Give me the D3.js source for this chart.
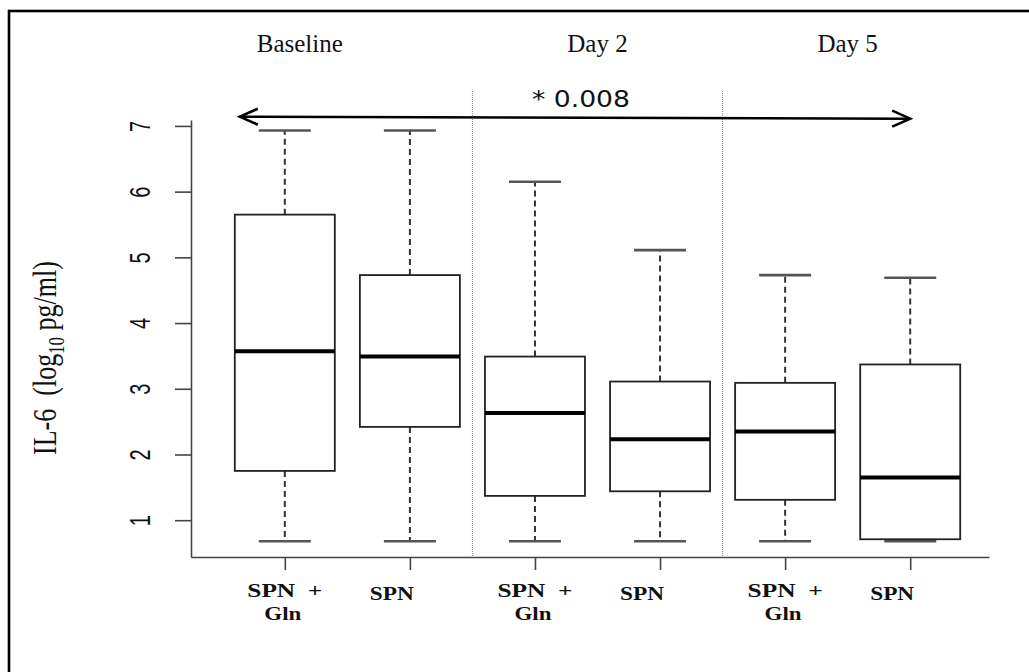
<html>
<head>
<style>
  body { margin: 0; background: #fff; }
  svg text { fill: #111; }
</style>
</head>
<body>
<svg id="chart" width="1029" height="672"></svg>
<script src="https://cdn.jsdelivr.net/npm/d3@7"></script>
<script>
// values (log10 pg/ml)
const groups = ["Baseline", "Day 2", "Day 5"];
const groupCenters = [1.12, 3.5, 5.5];
const boxLabels = [["SPN \u00a0+", "Gln"], ["SPN"], ["SPN \u00a0+", "Gln"], ["SPN"], ["SPN \u00a0+", "Gln"], ["SPN"]];
const whiskerLow = [0.68, 0.68, 0.68, 0.68, 0.68, 0.68];
const q1 = [1.75, 2.42, 1.37, 1.44, 1.31, 0.71];
const median = [3.57, 3.49, 2.63, 2.23, 2.35, 1.65];
const q3 = [5.65, 4.73, 3.49, 3.11, 3.09, 3.37];
const whiskerHigh = [6.93, 6.93, 6.15, 5.11, 4.73, 4.69];
const yTicks = [1, 2, 3, 4, 5, 6, 7];
const pLabel = "* 0.008";

let svg = d3.select("#chart")

// outer frame (only top and left edges are inside the picture)
svg.append("rect")
    .attr("x", 9).attr("y", 11)
    .attr("width", 1100).attr("height", 700)
    .attr("fill", "none").attr("stroke", "#000").attr("stroke-width", 2.6)

let x = d3.scaleLinear().domain([0.25, 6.63]).range([191, 989])
let y = d3.scaleLinear().domain([0.44, 7.09]).range([557, 120])

let boxes = d3.range(6).map(i => ({
    i: i + 1, lo: whiskerLow[i], q1: q1[i], med: median[i], q3: q3[i], hi: whiskerHigh[i], label: boxLabels[i]
}))

// dotted separators between the days
svg.selectAll("line.sep")
    .data([2.5, 4.5])
    .enter().append("line")
    .attr("class", "sep")
    .attr("x1", d => x(d)).attr("x2", d => x(d))
    .attr("y1", 91).attr("y2", y(0.44))
    .attr("stroke", "#8a8a8a").attr("stroke-width", 1)
    .attr("stroke-dasharray", "1,1")

// y axis
let yAxis = svg.append("g")
    .attr("transform", `translate(${x(0.25)},0)`)
    .call(d3.axisLeft(y).tickValues(yTicks).tickSize(16).tickSizeOuter(0).tickFormat(d3.format("d")))
yAxis.selectAll("path, line").attr("stroke", "#444").attr("stroke-width", 1.6)
yAxis.selectAll("text")
    .attr("x", null).attr("dy", null)
    .attr("text-anchor", "middle")
    .attr("transform", "translate(-41,0) rotate(-90) scale(1,1.45)")
    .style("font-family", "Liberation Sans, Arial, sans-serif")
    .style("font-size", "20px")
    .attr("fill", "#222")

// x axis (labels drawn below by hand)
let xAxis = svg.append("g")
    .attr("transform", `translate(0,${y(0.44)})`)
    .call(d3.axisBottom(x).tickValues(boxes.map(d => d.i)).tickSize(13).tickSizeOuter(0).tickFormat(""))
xAxis.selectAll("path, line").attr("stroke", "#444").attr("stroke-width", 1.6)

// boxes
let g = svg.selectAll("g.box")
    .data(boxes)
    .enter().append("g")
    .attr("class", "box")

g.append("line") // upper whisker
    .attr("x1", d => x(d.i)).attr("x2", d => x(d.i))
    .attr("y1", d => y(d.q3)).attr("y2", d => y(d.hi))
    .attr("stroke", "#333").attr("stroke-width", 2).attr("stroke-dasharray", "6,4")
g.append("line") // lower whisker
    .attr("x1", d => x(d.i)).attr("x2", d => x(d.i))
    .attr("y1", d => y(d.q1)).attr("y2", d => y(d.lo))
    .attr("stroke", "#333").attr("stroke-width", 2).attr("stroke-dasharray", "6,4")

g.selectAll("line.cap")
    .data(d => [{ i: d.i, v: d.lo }, { i: d.i, v: d.hi }])
    .enter().append("line")
    .attr("class", "cap")
    .attr("x1", d => x(d.i) - 26).attr("x2", d => x(d.i) + 26)
    .attr("y1", d => y(d.v)).attr("y2", d => y(d.v))
    .attr("stroke", "#555").attr("stroke-width", 2.6)

g.append("rect")
    .attr("x", d => x(d.i) - 50).attr("width", 100)
    .attr("y", d => y(d.q3)).attr("height", d => y(d.q1) - y(d.q3))
    .attr("fill", "#fff").attr("stroke", "#222").attr("stroke-width", 1.8)

g.append("line") // median
    .attr("x1", d => x(d.i) - 50).attr("x2", d => x(d.i) + 50)
    .attr("y1", d => y(d.med)).attr("y2", d => y(d.med))
    .attr("stroke", "#000").attr("stroke-width", 4)

// category labels
g.each(function(d) {
    let sel = d3.select(this)
    let font = "Liberation Serif, Times New Roman, serif"
    if (d.label.length == 2) {
        sel.append("text")
            .attr("x", x(d.i)).attr("y", 597)
            .attr("text-anchor", "middle")
            .style("font-family", font).style("font-weight", "bold").style("font-size", "18px")
            .attr("textLength", 75).attr("lengthAdjust", "spacingAndGlyphs")
            .text(d.label[0])
        sel.append("text")
            .attr("x", x(d.i) - 2).attr("y", 620)
            .attr("text-anchor", "middle")
            .style("font-family", font).style("font-weight", "bold").style("font-size", "18px")
            .attr("textLength", 37).attr("lengthAdjust", "spacingAndGlyphs")
            .text(d.label[1])
    } else {
        sel.append("text")
            .attr("x", x(d.i) - 18).attr("y", 600)
            .attr("text-anchor", "middle")
            .style("font-family", font).style("font-weight", "bold").style("font-size", "18px")
            .attr("textLength", 44).attr("lengthAdjust", "spacingAndGlyphs")
            .text(d.label[0])
    }
})

// day labels
svg.selectAll("text.group")
    .data(groups)
    .enter().append("text")
    .attr("class", "group")
    .attr("x", (d, i) => x(groupCenters[i]))
    .attr("y", 52)
    .attr("text-anchor", "middle")
    .style("font-family", "Liberation Serif, Times New Roman, serif")
    .style("font-size", "25px")
    .text(d => d)

// significance arrow between baseline and day 5
let ax1 = x(0.64), ay1 = y(7.14), ax2 = x(6.0), ay2 = y(7.11)
svg.append("line")
    .attr("x1", ax1).attr("y1", ay1).attr("x2", ax2).attr("y2", ay2)
    .attr("stroke", "#000").attr("stroke-width", 2.6)
svg.append("path")
    .attr("d", `M${ax1 + 18},${ay1 - 8} L${ax1},${ay1} L${ax1 + 18},${ay1 + 8}`)
    .attr("fill", "none").attr("stroke", "#000").attr("stroke-width", 2.6)
svg.append("path")
    .attr("d", `M${ax2 - 18},${ay2 - 8} L${ax2},${ay2} L${ax2 - 18},${ay2 + 8}`)
    .attr("fill", "none").attr("stroke", "#000").attr("stroke-width", 2.6)
svg.append("text")
    .attr("x", 532).attr("y", 107)
    .style("font-family", "DejaVu Sans, sans-serif")
    .style("font-size", "23px")
    .attr("textLength", 98).attr("lengthAdjust", "spacingAndGlyphs")
    .text(pLabel)

// y axis title
let title = svg.append("text")
    .attr("transform", "translate(56,358) rotate(-90) scale(1,1.3)")
    .attr("text-anchor", "middle")
    .style("font-family", "Liberation Serif, Times New Roman, serif")
    .style("font-size", "26px")
title.append("tspan").text("IL-6 \u00a0(log")
title.append("tspan").attr("dy", 6).style("font-size", "17px").text("10")
title.append("tspan").attr("dy", -6).text(" pg/ml)")
</script>
</body>
</html>
